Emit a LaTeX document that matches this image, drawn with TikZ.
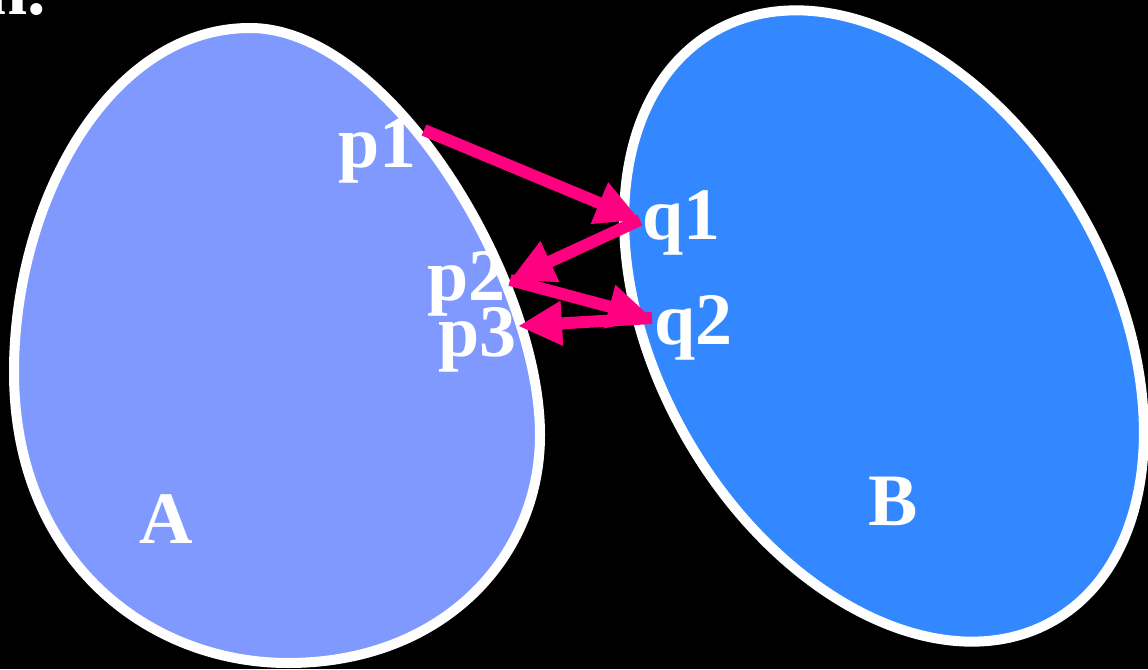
\documentclass[tikz,border=0pt]{standalone}
\usepackage{fontspec}
\setmainfont{Liberation Serif}
\usetikzlibrary{arrows.meta}
\definecolor{setA}{HTML}{7F99FF}
\definecolor{setB}{HTML}{3388FF}
\definecolor{arr}{HTML}{FF0080}
\tikzset{
  setline/.style={draw=white, line width=10pt},
  lbl/.style={text=white, font=\fontsize{74}{80}\selectfont\bfseries, inner sep=0pt, anchor=base},
  map/.style={draw=arr, line width=12pt, -{Triangle[length=44pt,width=42pt]}}
}
\begin{document}
\begin{tikzpicture}[x=1pt,y=-1pt]
\fill[black] (0,0) rectangle (1148,669);
\useasboundingbox (0,0) rectangle (1148,669);
% set A (egg)
\path[setline, fill=setA] (250,28) .. controls (110,28) and (14,200) .. (14,372)
  .. controls (14,562) and (150,663) .. (288,663)
  .. controls (440,663) and (540,560) .. (540,435)
  .. controls (540,280) and (390,28) .. (250,28) -- cycle;
% set B (ellipse)
\path[setline, fill=setB, shift={(884,326)}, rotate=-60] (0,0) ellipse [x radius=340pt, y radius=227pt];
% labels
\node[lbl, anchor=base west] (cut) at (-14,15) {n.};
\node[lbl] (A) at (166,543) {A};
\node[lbl] (B) at (893,525) {B};
\node[lbl, anchor=base east] (p1) at (417,167) {p1};
\node[lbl, anchor=base west] (q1) at (642,239) {q1};
\node[lbl, anchor=base east] (p2) at (506,300) {p2};
\node[lbl, anchor=base east] (p3) at (517,356) {p3};
\node[lbl, anchor=base west] (q2) at (654,344) {q2};
% mapping points
\coordinate (pp1) at (424,130);
\coordinate (qq1) at (640,220);
\coordinate (pp2) at (510,280);
\coordinate (qq2) at (652,318);
\coordinate (pp3) at (518,326);
\draw[map] (pp1) -- (qq1);
\draw[map] (qq1) -- (pp2);
\draw[map] (pp2) -- (qq2);
\draw[map] (qq2) -- (pp3);
\end{tikzpicture}
\end{document}
